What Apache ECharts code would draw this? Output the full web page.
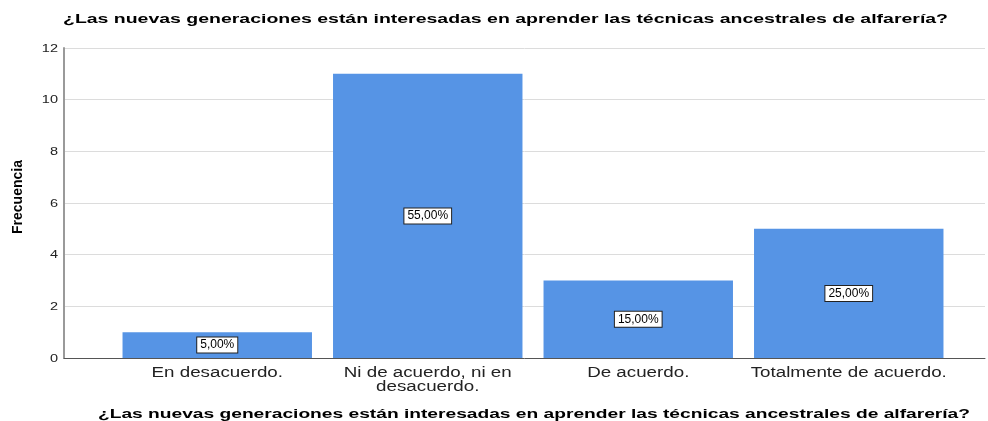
<!DOCTYPE html>
<html><head><meta charset="utf-8">
<script src="https://cdn.jsdelivr.net/npm/echarts@6/dist/echarts.min.js"></script>
<style>html,body{margin:0;padding:0;background:#fff}#c{width:988px;height:421px}</style>
</head><body><div id="c"></div>
<script>
const categories = ['En desacuerdo.', 'Ni de acuerdo, ni en\ndesacuerdo.', 'De acuerdo.', 'Totalmente de acuerdo.'];
const frequencies = [1, 11, 3, 5];
const percentLabels = ['5,00%', '55,00%', '15,00%', '25,00%'];
const yTicks = [0, 2, 4, 6, 8, 10, 12];
const titleText = '¿Las nuevas generaciones están interesadas en aprender las técnicas ancestrales de alfarería?';
const yName = 'Frecuencia';

const chart = echarts.init(document.getElementById('c'));
const yMin = yTicks[0], yMax = yTicks[yTicks.length - 1], yStep = yTicks[1] - yTicks[0];

const ctx = document.createElement('canvas').getContext('2d');
function measure(text, font) { ctx.font = font; return ctx.measureText(text).width; }

const titleFont = 'bold 12px "Liberation Sans"';
const titleTopScale = 885 / measure(titleText, titleFont);
const titleBottomScale = 872 / measure(titleText, titleFont);
const catFont = '14px "Liberation Sans"';
const catScale = 1.34;
const tickFont = '10px "Liberation Sans"';
const tickScale = 1.45;

chart.setOption({
  animation: false,
  grid: [
    { left: 112, width: 842, top: 48, height: 310 },
    { left: 64, right: 3, top: 48, height: 310 }
  ],
  xAxis: [
    { type: 'category', gridIndex: 0, data: categories,
      axisLine: { show: false }, axisTick: { show: false }, axisLabel: { show: false } },
    { type: 'value', gridIndex: 1, min: 0, max: 1, show: true,
      axisLine: { show: true, lineStyle: { color: '#555', width: 1 } },
      axisTick: { show: false }, axisLabel: { show: false }, splitLine: { show: false } }
  ],
  yAxis: [
    { type: 'value', gridIndex: 0, min: yMin, max: yMax, interval: yStep, show: false },
    { type: 'value', gridIndex: 1, min: yMin, max: yMax, interval: yStep,
      axisLine: { show: true, lineStyle: { color: '#9a9a9a', width: 2 } },
      axisTick: { show: false },
      axisLabel: { show: false },
      splitLine: { show: true, lineStyle: { color: '#dcdcdc', width: 1 } } }
  ],
  series: [{
    type: 'bar', xAxisIndex: 0, yAxisIndex: 0, data: frequencies,
    barCategoryGap: '10%', z: 5,
    itemStyle: { color: '#5694E5' },
    label: { show: true, position: 'inside', formatter: p => percentLabels[p.dataIndex],
      fontFamily: 'Liberation Sans', fontSize: 12, color: '#000',
      backgroundColor: '#fff', borderColor: '#222', borderWidth: 1, padding: [2, 3, 1, 3] }
  }]
});

// category labels placed through the category axis scale
const axisBottom = chart.convertToPixel({ yAxisIndex: 0 }, yMin);
const graphics = categories.map((c, i) => ({
  type: 'text', x: chart.convertToPixel({ xAxisIndex: 0 }, i), y: axisBottom + 8,
  scaleX: catScale, z: 10,
  style: { text: c, font: catFont, fill: '#222', align: 'center', verticalAlign: 'top', lineHeight: 14 }
}));
// y tick labels placed through the value axis scale
yTicks.forEach(v => graphics.push({
  type: 'text', x: 58, y: chart.convertToPixel({ yAxisIndex: 0 }, v) + 1, scaleX: tickScale, z: 10,
  style: { text: String(v), font: tickFont, fill: '#222', align: 'right', verticalAlign: 'middle' }
}));
graphics.push(
  { type: 'text', x: 63, y: 20, scaleX: titleTopScale, z: 10,
    style: { text: titleText, font: titleFont, fill: '#000', align: 'left', verticalAlign: 'middle' } },
  { type: 'text', x: 534, y: 415, scaleX: titleBottomScale, z: 10,
    style: { text: titleText, font: titleFont, fill: '#000', align: 'center', verticalAlign: 'middle' } },
  { type: 'text', x: 18, y: 197, rotation: Math.PI / 2, z: 10,
    style: { text: yName, font: 'bold 14px "Liberation Sans"', fill: '#000', align: 'center', verticalAlign: 'middle' } }
);
chart.setOption({ graphic: graphics });
</script></body></html>
